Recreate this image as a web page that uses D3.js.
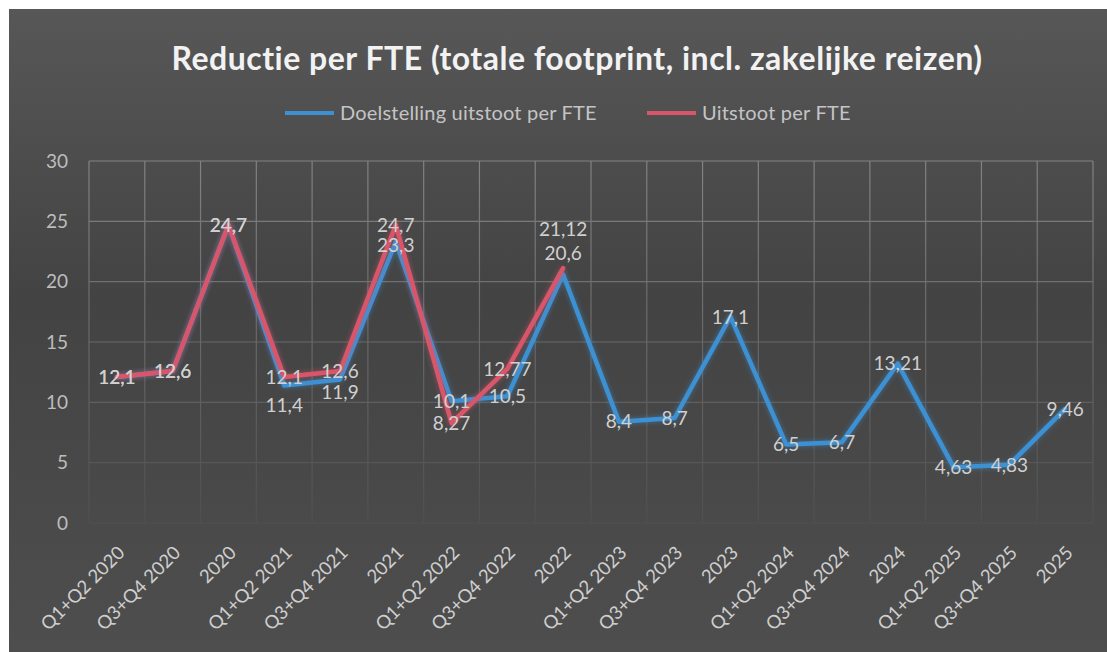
<!DOCTYPE html>
<html>
<head>
<meta charset="utf-8">
<script src="https://cdn.jsdelivr.net/npm/d3@7"></script>
<style>
  html, body { margin: 0; padding: 0; background: #ffffff; }
  svg { display: block; }
  text { font-family: Lato, "Open Sans", sans-serif; }
</style>
</head>
<body>
<script>
// data
var categories = ["Q1+Q2 2020", "Q3+Q4 2020", "2020", "Q1+Q2 2021", "Q3+Q4 2021", "2021",
                  "Q1+Q2 2022", "Q3+Q4 2022", "2022", "Q1+Q2 2023", "Q3+Q4 2023", "2023",
                  "Q1+Q2 2024", "Q3+Q4 2024", "2024", "Q1+Q2 2025", "Q3+Q4 2025", "2025"];
var doelstelling = [12.1, 12.6, 24.7, 11.4, 11.9, 23.3, 10.1, 10.5, 20.6,
                    8.4, 8.7, 17.1, 6.5, 6.7, 13.21, 4.63, 4.83, 9.46];
var uitstoot = [12.1, 12.6, 24.7, 12.1, 12.6, 24.7, 8.27, 12.77, 21.12];
var yTicks = [0, 5, 10, 15, 20, 25, 30];
var seriesNames = ["Doelstelling uitstoot per FTE", "Uitstoot per FTE"];
var seriesColors = ["#3d90d2", "#d9566a"];

// labels that were dragged by hand in the original (pixels, vertical)
var labelNudgeDoel = {3: 20, 4: 13, 5: 3, 8: -21};
var labelNudgeUit = {8: -39};

var W = 1107, H = 652;
var plot = {left: 89, right: 1093, top: 161, bottom: 523};

var svg = d3.select("body").append("svg")
    .attr("width", W)
    .attr("height", H);

var defs = svg.append("defs");

var bg = defs.append("linearGradient").attr("id", "bg")
    .attr("x1", 0).attr("y1", 0).attr("x2", 0).attr("y2", 1);
bg.append("stop").attr("offset", "0%").attr("stop-color", "#575757");
bg.append("stop").attr("offset", "45%").attr("stop-color", "#434343");
bg.append("stop").attr("offset", "100%").attr("stop-color", "#4e4e4e");

// grain of the photographed print
var grain = defs.append("filter").attr("id", "grain")
    .attr("x", 0).attr("y", 0).attr("width", "100%").attr("height", "100%");
grain.append("feTurbulence").attr("type", "fractalNoise")
    .attr("baseFrequency", 0.9).attr("numOctaves", 2).attr("seed", 4);
grain.append("feColorMatrix").attr("type", "matrix")
    .attr("values", "0 0 0 0 1  0 0 0 0 1  0 0 0 0 1  0 0 0 0 0");
grain.append("feComponentTransfer").append("feFuncA")
    .attr("type", "table").attr("tableValues", "0 0 0 0.08 0.45");

var glow = defs.append("filter").attr("id", "glow")
    .attr("x", "-5%").attr("y", "-5%").attr("width", "110%").attr("height", "110%");
glow.append("feGaussianBlur").attr("stdDeviation", 2);

var fade = defs.append("linearGradient").attr("id", "fade")
    .attr("gradientUnits", "userSpaceOnUse")
    .attr("x1", 0).attr("y1", plot.top).attr("x2", 0).attr("y2", plot.bottom);
fade.append("stop").attr("offset", "0%").attr("stop-color", "#fff").attr("stop-opacity", 1);
fade.append("stop").attr("offset", "50%").attr("stop-color", "#fff").attr("stop-opacity", 0.6);
fade.append("stop").attr("offset", "100%").attr("stop-color", "#fff").attr("stop-opacity", 0.1);
defs.append("mask").attr("id", "gridMask")
  .append("rect").attr("x", 0).attr("y", 0).attr("width", W).attr("height", H)
    .attr("fill", "url(#fade)");

// background
svg.append("rect").attr("x", 9).attr("y", 9).attr("width", W - 9).attr("height", H - 9)
    .attr("fill", "url(#bg)");
svg.append("rect").attr("x", 9).attr("y", 9).attr("width", W - 9).attr("height", H - 9)
    .attr("filter", "url(#grain)");

// scales
var x = d3.scaleBand().domain(categories).range([plot.left, plot.right]);
var y = d3.scaleLinear().domain([0, 30]).range([plot.bottom, plot.top]);
var cx = function (c) { return x(c) + x.bandwidth() / 2; };

// gridlines
var grid = svg.append("g").attr("mask", "url(#gridMask)")
    .attr("stroke", "#9a9a9a").attr("stroke-width", 1.2).attr("opacity", 0.7);
grid.selectAll("line.h").data(yTicks).enter().append("line")
    .attr("class", "h")
    .attr("x1", plot.left).attr("x2", plot.right)
    .attr("y1", function (d) { return y(d); })
    .attr("y2", function (d) { return y(d); });
grid.selectAll("line.v").data(categories.concat(["end"])).enter().append("line")
    .attr("class", "v")
    .attr("x1", function (d) { return d === "end" ? plot.right : x(d); })
    .attr("x2", function (d) { return d === "end" ? plot.right : x(d); })
    .attr("y1", plot.top).attr("y2", plot.bottom);

// y axis labels
var yAxis = svg.append("g")
    .attr("transform", "translate(" + (plot.left - 21) + ",0)")
    .call(d3.axisLeft(y).tickValues(yTicks).tickSize(0).tickPadding(0));
yAxis.select(".domain").remove();
yAxis.selectAll("text")
    .attr("fill", "#bdbdbd")
    .style("font-family", "Lato, sans-serif")
    .style("font-size", "19px");

// x axis labels
var xAxis = svg.append("g")
    .attr("transform", "translate(0," + plot.bottom + ")")
    .call(d3.axisBottom(x).tickSize(0).tickPadding(0));
xAxis.select(".domain").remove();
xAxis.selectAll(".tick text")
    .attr("fill", "#cfcfcf")
    .style("font-family", "Lato, sans-serif")
    .style("font-size", "18.5px")
    .attr("text-anchor", "end")
    .attr("dy", 0)
    .attr("y", 0)
    .attr("transform", "translate(9,31) rotate(-45)");

// lines
var line = d3.line()
    .defined(function (d) { return d != null; })
    .x(function (d, i) { return cx(categories[i]); })
    .y(function (d) { return y(d); });

var series = [doelstelling, uitstoot];
series.forEach(function (vals, s) {
    svg.append("path").datum(vals)
        .attr("d", line)
        .attr("fill", "none")
        .attr("stroke", seriesColors[s])
        .attr("stroke-width", 7)
        .attr("stroke-opacity", 0.35)
        .attr("stroke-linejoin", "round")
        .attr("filter", "url(#glow)");
    svg.append("path").datum(vals)
        .attr("d", line)
        .attr("fill", "none")
        .attr("stroke", seriesColors[s])
        .attr("stroke-width", 4.5)
        .attr("stroke-linejoin", "round")
        .attr("stroke-linecap", "round");
});

// data labels (Dutch decimal comma)
function fmt(v) { return String(v).replace(".", ","); }
var nudges = [labelNudgeDoel, labelNudgeUit];
series.forEach(function (vals, s) {
    svg.append("g").selectAll("text")
        .data(vals.map(function (v, i) { return {v: v, i: i}; })
            .filter(function (d) { return d.v != null; }))
        .enter().append("text")
        .attr("x", function (d) { return cx(categories[d.i]); })
        .attr("y", function (d) { return y(d.v) + (nudges[s][d.i] || 0); })
        .attr("dy", "0.36em")
        .attr("text-anchor", "middle")
        .attr("fill", "#d0d0d0")
        .style("font-size", "19px")
        .text(function (d) { return fmt(d.v); });
});

// title
svg.append("text")
    .attr("x", 577).attr("y", 70)
    .attr("text-anchor", "middle")
    .attr("fill", "#f2f2f2")
    .style("font-size", "32px")
    .style("font-weight", "bold")
    .style("letter-spacing", "0.5px")
    .text("Reductie per FTE (totale footprint, incl. zakelijke reizen)");

// legend
var legendX = [285, 647];
var legend = svg.append("g").selectAll("g")
    .data(seriesNames).enter().append("g")
    .attr("transform", function (d, i) { return "translate(" + legendX[i] + ",113)"; });
legend.append("line")
    .attr("x1", 0).attr("x2", 49).attr("y1", 0).attr("y2", 0)
    .attr("stroke", function (d, i) { return seriesColors[i]; })
    .attr("stroke-width", 4);
legend.append("text")
    .attr("x", 55).attr("y", 0).attr("dy", "0.35em")
    .attr("fill", "#c4c4c4")
    .style("font-size", "20px")
    .style("letter-spacing", "0.2px")
    .text(function (d) { return d; });
</script>
</body>
</html>
